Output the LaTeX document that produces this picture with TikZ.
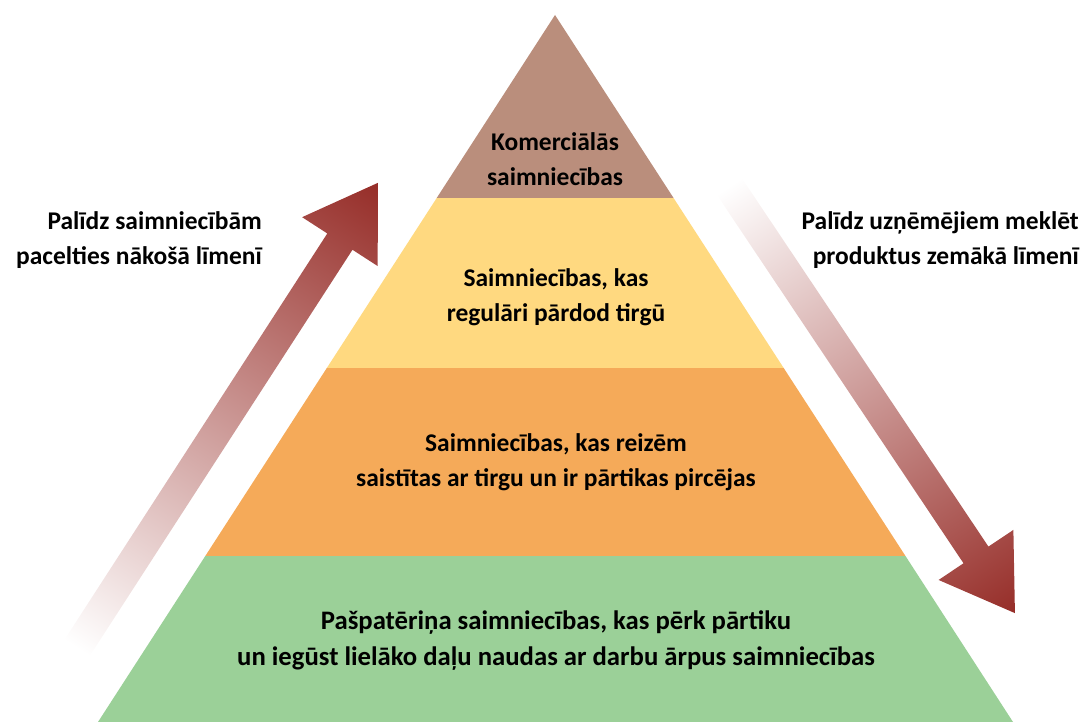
\documentclass[tikz,border=0pt]{standalone}
\usepackage{fontspec}
\setmainfont{Carlito}
\usetikzlibrary{calc}

\definecolor{topbrown}{RGB}{186,142,124}
\definecolor{midyellow}{RGB}{255,217,128}
\definecolor{loworange}{RGB}{245,170,89}
\definecolor{basegreen}{RGB}{155,208,152}
\definecolor{arrowred}{RGB}{150,45,40}

\tikzset{
  bandtext/.style={align=center, font=\bfseries\fontsize{14.5}{19.8}\selectfont, text=black},
  sidetext/.style={align=right, font=\bfseries\fontsize{14.5}{19.8}\selectfont, text=black, anchor=east},
  gradshaft/.style={left color=white, right color=arrowred, draw=none}
}

\begin{document}
\begin{tikzpicture}[x=0.02cm, y=0.02cm]
        \useasboundingbox (0,0) rectangle (1091,722);

        % Corners of the pyramid
        \coordinate (apex) at (555,707);
        \coordinate (baseL) at (98,0);
        \coordinate (baseR) at (1013,0);

        % Band borders along both sides
        \coordinate (gL) at ($(baseL)!0.2348!(apex)$);
        \coordinate (gR) at ($(baseR)!0.2348!(apex)$);
        \coordinate (oL) at ($(baseL)!0.5007!(apex)$);
        \coordinate (oR) at ($(baseR)!0.5007!(apex)$);
        \coordinate (yL) at ($(baseL)!0.7412!(apex)$);
        \coordinate (yR) at ($(baseR)!0.7412!(apex)$);

        % Bands, from the base up
        \fill[basegreen] (baseL) -- (baseR) -- (gR) -- (gL) -- cycle;
        \fill[loworange] (gL) -- (gR) -- (oR) -- (oL) -- cycle;
        \fill[midyellow] (oL) -- (oR) -- (yR) -- (yL) -- cycle;
        \fill[topbrown] (yL) -- (yR) -- (apex) -- cycle;

        % Texts in the bands
        \node[bandtext] (commercial) at (555,563) {Komerciālās\\saimniecības};
        \node[bandtext] (regular) at (556,425) {Saimniecības, kas\\regulāri pārdod tirgū};
        \node[bandtext] (sometimes) at (556,260) {Saimniecības, kas reizēm\\saistītas ar tirgu un ir pārtikas pircējas};
        \node[bandtext, font=\bfseries\fontsize{15.2}{20.5}\selectfont] (subsistence) at (556,81)
          {Pašpatēriņa saimniecības, kas pērk pārtiku\\un iegūst lielāko daļu naudas ar darbu ārpus saimniecības};

        % Upward arrow on the left
        \begin{scope}[transform canvas={shift={(77,74)}, rotate=57.1}]
          \coordinate (upTail) at (0,0);
          \coordinate (upTip) at (554,0);
          \shade[gradshaft] (upTail) ++(0,-15) -- ++(484,0) -- ++(0,-30)
            -- (upTip) -- ++(-70,45) -- ++(0,-30) -- ($(upTail)+(0,15)$) -- cycle;
        \end{scope}
        \node[sidetext] (liftText) at (268,482) {Palīdz saimniecībām\\pacelties nākošā līmenī};

        % Downward arrow on the right
        \begin{scope}[transform canvas={shift={(729,536)}, rotate=-56.2}]
          \coordinate (downTail) at (0,0);
          \coordinate (downTip) at (514,0);
          \shade[gradshaft] (downTail) ++(0,-15) -- ++(444,0) -- ++(0,-30)
            -- (downTip) -- ++(-70,45) -- ++(0,-30) -- ($(downTail)+(0,15)$) -- cycle;
        \end{scope}
        \node[sidetext] (findText) at (1085,482) {Palīdz uzņēmējiem meklēt\\produktus zemākā līmenī};
      \end{tikzpicture}
\end{document}
